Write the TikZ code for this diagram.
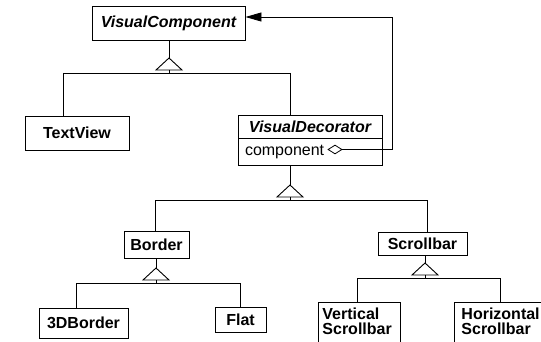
\documentclass[tikz,border=0pt]{standalone}
\usepackage{fontspec}
\setmainfont{Liberation Sans}
\usetikzlibrary{arrows.meta, shapes.geometric}

\tikzset{
  cls/.style={draw, inner sep=0pt, font=\fontsize{16}{15}\selectfont\bfseries},
  abscls/.style={cls, font=\fontsize{16}{15}\selectfont\bfseries\itshape},
  twoline/.style={cls, anchor=north west, inner ysep=5pt, align=left, text depth=22pt},
  gentri/.pic={
    \draw[fill=white] (0,0) -- (-13,12) -- (13,12) -- cycle;
    \draw (0,12) -- (0,15);
  }
}

\begin{document}
\begin{tikzpicture}[x=1pt, y=-1pt, line width=0.9pt]
    \clip (0,0) rectangle (541,342);

    % classes
    \node[abscls, minimum width=153pt, minimum height=34pt] (vc) at (168.5,23) {VisualComponent};
    \node[cls, minimum width=104pt, minimum height=34pt] (tv) at (77,133) {TextView};
    \node[abscls, minimum width=144pt, minimum height=23pt] (vd) at (310,126.5) {VisualDecorator};
    \node[cls, anchor=north, minimum width=144pt, minimum height=27pt, inner xsep=7pt,
          text width=130pt, align=left, font=\fontsize{16}{15}\selectfont] (vdattr) at (vd.south) {component};
    \node[cls, minimum width=65pt, minimum height=27pt] (border) at (156.5,244.5) {Border};
    \node[cls, minimum width=89pt, minimum height=23pt] (sb) at (422.5,243.5) {Scrollbar};
    \node[cls, minimum width=89pt, minimum height=30pt] (b3d) at (83.5,323) {3DBorder};
    \node[cls, minimum width=51pt, minimum height=25pt] (flat) at (240.5,319.5) {Flat};
    \node[twoline, inner xsep=4pt, text width=74pt] (vsb) at (318,302) {Vertical\\Scrollbar};
    \node[twoline, inner xsep=7pt, text width=90pt] (hsb) at (454,302) {Horizontal\\Scrollbar};

    % aggregation back to the component
    \node[diamond, draw, fill=white, aspect=1.5, minimum width=14pt, minimum height=9pt,
          inner sep=0pt, line width=0.8pt] (agg) at (335,149.5) {};
    \coordinate (turn) at (392,17);
    \coordinate (vcin) at (vc.east |- turn);
    \draw[-{Triangle[length=16pt,width=9pt]}] (agg.east) -| (turn) -- (vcin);

    % VisualComponent subclasses
    \coordinate (g1) at (169,58);
    \coordinate (b1w) at (63,73);
    \coordinate (b1e) at (290,73);
    \draw (vc.south -| g1) -- (g1);
    \draw (b1w) -- (b1e);
    \draw (b1w) -- (b1w |- tv.north);
    \draw (b1e) -- (b1e |- vd.north);
    \pic at (g1) {gentri};

    % VisualDecorator subclasses
    \coordinate (g2) at (290,185);
    \coordinate (b2w) at (155,200);
    \coordinate (b2e) at (427,200);
    \draw (vdattr.south -| g2) -- (g2);
    \draw (b2w) -- (b2e);
    \draw (b2w) -- (b2w |- border.north);
    \draw (b2e) -- (b2e |- sb.north);
    \pic at (g2) {gentri};

    % Border subclasses
    \coordinate (g3) at (156,268);
    \coordinate (b3w) at (76,283);
    \coordinate (b3e) at (240,283);
    \draw (border.south -| g3) -- (g3);
    \draw (b3w) -- (b3e);
    \draw (b3w) -- (b3w |- b3d.north);
    \draw (b3e) -- (b3e |- flat.north);
    \pic at (g3) {gentri};

    % Scrollbar subclasses
    \coordinate (g4) at (425,263);
    \coordinate (b4w) at (357,278);
    \coordinate (b4e) at (500,278);
    \draw (sb.south -| g4) -- (g4);
    \draw (b4w) -- (b4e);
    \draw (b4w) -- (b4w |- vsb.north);
    \draw (b4e) -- (b4e |- hsb.north);
    \pic at (g4) {gentri};
\end{tikzpicture}
\end{document}
